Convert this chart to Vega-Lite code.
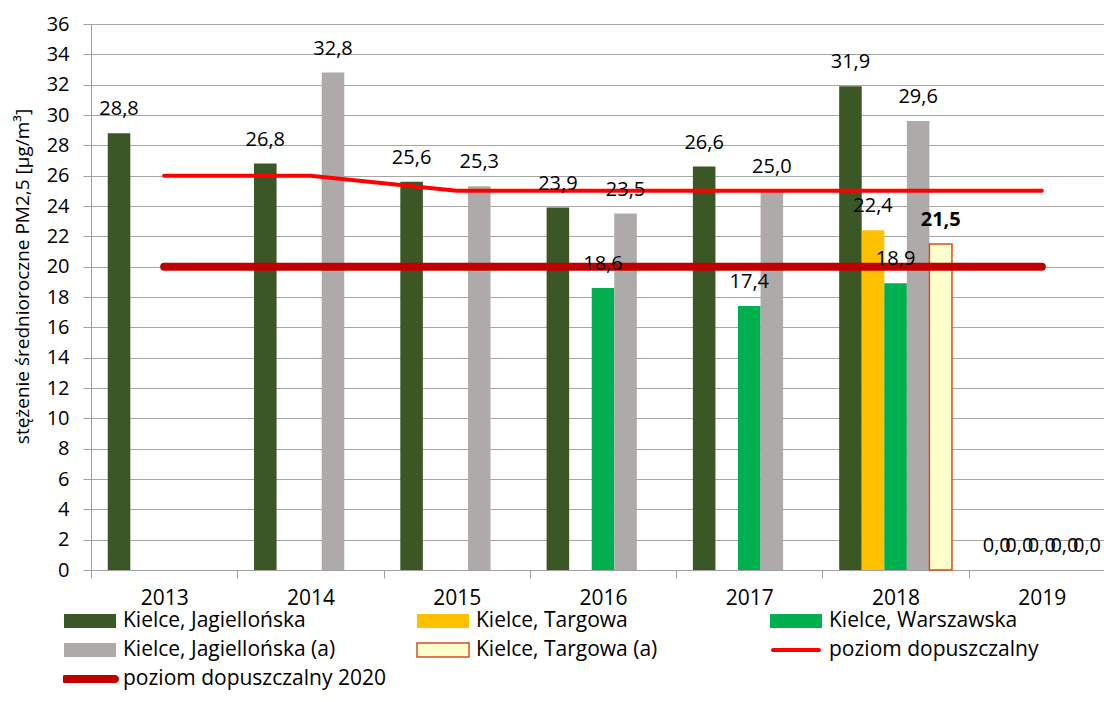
{
  "$schema": "https://vega.github.io/schema/vega-lite/v6.json",
  "width": 1013,
  "height": 546,
  "autosize": "none",
  "padding": {"left": 91, "top": 24, "right": 0, "bottom": 132},
  "background": "white",
  "config": {
    "view": {"stroke": null},
    "font": "Open Sans",
    "locale": {"number": {"decimal": ",", "thousands": " ", "grouping": [3], "currency": ["", " zł"]}}
  },
  "datasets": {
    "bars": [
      {"year": 2013, "series": "Kielce, Jagiellońska", "value": 28.8},
      {"year": 2014, "series": "Kielce, Jagiellońska", "value": 26.8},
      {"year": 2015, "series": "Kielce, Jagiellońska", "value": 25.6},
      {"year": 2016, "series": "Kielce, Jagiellońska", "value": 23.9},
      {"year": 2017, "series": "Kielce, Jagiellońska", "value": 26.6},
      {"year": 2018, "series": "Kielce, Jagiellońska", "value": 31.9},
      {"year": 2019, "series": "Kielce, Jagiellońska", "value": 0},
      {"year": 2018, "series": "Kielce, Targowa", "value": 22.4},
      {"year": 2019, "series": "Kielce, Targowa", "value": 0},
      {"year": 2016, "series": "Kielce, Warszawska", "value": 18.6},
      {"year": 2017, "series": "Kielce, Warszawska", "value": 17.4},
      {"year": 2018, "series": "Kielce, Warszawska", "value": 18.9},
      {"year": 2019, "series": "Kielce, Warszawska", "value": 0},
      {"year": 2014, "series": "Kielce, Jagiellońska (a)", "value": 32.8},
      {"year": 2015, "series": "Kielce, Jagiellońska (a)", "value": 25.3},
      {"year": 2016, "series": "Kielce, Jagiellońska (a)", "value": 23.5},
      {"year": 2017, "series": "Kielce, Jagiellońska (a)", "value": 25.0},
      {"year": 2018, "series": "Kielce, Jagiellońska (a)", "value": 29.6},
      {"year": 2019, "series": "Kielce, Jagiellońska (a)", "value": 0},
      {"year": 2018, "series": "Kielce, Targowa (a)", "value": 21.5},
      {"year": 2019, "series": "Kielce, Targowa (a)", "value": 0}
    ],
    "limits": [
      {"year": 2013, "series": "poziom dopuszczalny", "value": 26},
      {"year": 2014, "series": "poziom dopuszczalny", "value": 26},
      {"year": 2015, "series": "poziom dopuszczalny", "value": 25},
      {"year": 2016, "series": "poziom dopuszczalny", "value": 25},
      {"year": 2017, "series": "poziom dopuszczalny", "value": 25},
      {"year": 2018, "series": "poziom dopuszczalny", "value": 25},
      {"year": 2019, "series": "poziom dopuszczalny", "value": 25},
      {"year": 2013, "series": "poziom dopuszczalny 2020", "value": 20},
      {"year": 2014, "series": "poziom dopuszczalny 2020", "value": 20},
      {"year": 2015, "series": "poziom dopuszczalny 2020", "value": 20},
      {"year": 2016, "series": "poziom dopuszczalny 2020", "value": 20},
      {"year": 2017, "series": "poziom dopuszczalny 2020", "value": 20},
      {"year": 2018, "series": "poziom dopuszczalny 2020", "value": 20},
      {"year": 2019, "series": "poziom dopuszczalny 2020", "value": 20}
    ]
  },
  "encoding": {
    "x": {
      "field": "year", "type": "ordinal",
      "scale": {"domain": [2013, 2014, 2015, 2016, 2017, 2018, 2019], "range": [0, 1024], "paddingInner": 0, "paddingOuter": 0},
      "axis": {"title": null, "tickBand": "extent", "labelAngle": 0, "labelFontSize": 21, "labelFont": "Open Sans", "labelColor": "black", "labelPadding": 9, "tickSize": 8, "tickColor": "#A0A0A0", "domainColor": "#A0A0A0", "grid": false}
    },
    "y": {
      "field": "value", "type": "quantitative",
      "scale": {"domain": [0, 36], "nice": false},
      "axis": {
        "title": "stężenie średnioroczne PM2,5 [µg/m³]",
        "values": [0, 2, 4, 6, 8, 10, 12, 14, 16, 18, 20, 22, 24, 26, 28, 30, 32, 34, 36],
        "format": "d",
        "grid": true, "gridColor": "#A6A6A6", "gridWidth": 1,
        "tickSize": 8, "tickColor": "#A0A0A0", "domainColor": "#A0A0A0",
        "labelPadding": 14, "labelFontSize": 20, "labelFont": "Open Sans", "labelColor": "black",
        "titleFontSize": 19, "titleFont": "Open Sans", "titleFontWeight": "normal", "titleColor": "black",
        "titleX": -69, "titleY": 252, "titleAngle": 270, "titleAlign": "center", "titleBaseline": "middle"
      }
    }
  },
  "layer": [
    {
      "data": {"name": "bars"},
      "mark": {"type": "bar", "strokeWidth": 1.5},
      "encoding": {
        "xOffset": {"field": "series", "type": "nominal",
          "scale": {"domain": ["Kielce, Jagiellońska", "Kielce, Targowa", "Kielce, Warszawska", "Kielce, Jagiellońska (a)", "Kielce, Targowa (a)"], "paddingInner": 0, "paddingOuter": 0.742}},
        "color": {
          "field": "series", "type": "nominal",
          "scale": {
            "domain": ["poziom dopuszczalny", "poziom dopuszczalny 2020", "Kielce, Jagiellońska", "Kielce, Targowa", "Kielce, Warszawska", "Kielce, Jagiellońska (a)", "Kielce, Targowa (a)"],
            "range": ["#FF0000", "#C00000", "#3B5726", "#FFC000", "#00B050", "#AEAAAA", "#FFFFCC"]
          },
          "legend": null
        },
        "stroke": {"condition": {"test": "datum.series === 'Kielce, Targowa (a)' && datum.value > 0", "value": "#D05020"}, "value": "transparent"}
      }
    },
    {
      "data": {"name": "limits"},
      "transform": [{"filter": "datum.series === 'poziom dopuszczalny 2020'"}],
      "mark": {"type": "line", "strokeWidth": 8, "strokeCap": "round"},
      "encoding": {"color": {"field": "series", "type": "nominal", "legend": null}}
    },
    {
      "data": {"name": "limits"},
      "transform": [{"filter": "datum.series === 'poziom dopuszczalny'"}],
      "mark": {"type": "line", "strokeWidth": 4, "strokeCap": "round"},
      "encoding": {"color": {"field": "series", "type": "nominal", "legend": null}}
    },
    {
      "data": {"name": "bars"},
      "transform": [{"filter": "datum.series !== 'Kielce, Targowa (a)' || datum.value == 0"}],
      "mark": {"type": "text", "fontSize": 20, "font": "Open Sans", "color": "black", "baseline": "alphabetic", "dy": -18},
      "encoding": {
        "xOffset": {"field": "series", "type": "nominal"},
        "text": {"field": "value", "type": "quantitative", "format": ".1f"}
      }
    },
    {
      "data": {"name": "bars"},
      "transform": [{"filter": "datum.series === 'Kielce, Targowa (a)' && datum.value > 0"}],
      "mark": {"type": "text", "fontSize": 20, "font": "Open Sans", "fontWeight": "bold", "color": "black", "baseline": "alphabetic", "dy": -18},
      "encoding": {
        "xOffset": {"field": "series", "type": "nominal"},
        "text": {"field": "value", "type": "quantitative", "format": ".1f"}
      }
    },
    {
      "data": {"name": "bars"},
      "transform": [{"filter": "datum.value < 0"}],
      "mark": {"type": "point", "opacity": 1, "strokeWidth": 1.5},
      "encoding": {
        "fill": {
          "field": "series", "type": "nominal",
          "scale": {
            "domain": ["Kielce, Jagiellońska", "Kielce, Targowa", "Kielce, Warszawska", "Kielce, Jagiellońska (a)", "Kielce, Targowa (a)", "poziom dopuszczalny", "poziom dopuszczalny 2020"],
            "range": ["#3B5726", "#FFC000", "#00B050", "#AEAAAA", "#FFFFCC", "#FF0000", "#C00000"]
          },
          "legend": {
            "title": null, "orient": "none", "legendX": -28, "legendY": 589,
            "direction": "horizontal",
            "columns": 3, "gridAlign": "all", "columnPadding": 30, "rowPadding": 8,
            "clipHeight": 16,
            "symbolSize": 2704, "symbolStrokeWidth": 1.5, "symbolOpacity": 1,
            "labelFontSize": 21, "labelFont": "Open Sans", "labelColor": "black",
            "labelOffset": 6, "labelLimit": 500
          }
        },
        "stroke": {
          "field": "series", "type": "nominal",
          "scale": {
            "domain": ["Kielce, Jagiellońska", "Kielce, Targowa", "Kielce, Warszawska", "Kielce, Jagiellońska (a)", "Kielce, Targowa (a)", "poziom dopuszczalny", "poziom dopuszczalny 2020"],
            "range": ["transparent", "transparent", "transparent", "transparent", "#D05020", "transparent", "transparent"]
          },
          "legend": {
            "title": null, "orient": "none", "legendX": -28, "legendY": 589,
            "direction": "horizontal",
            "columns": 3, "gridAlign": "all", "columnPadding": 30, "rowPadding": 8,
            "clipHeight": 16,
            "symbolSize": 2704, "symbolStrokeWidth": 1.5, "symbolOpacity": 1,
            "labelFontSize": 21, "labelFont": "Open Sans", "labelColor": "black",
            "labelOffset": 6, "labelLimit": 500
          }
        },
        "shape": {
          "field": "series", "type": "nominal",
          "scale": {
            "domain": ["Kielce, Jagiellońska", "Kielce, Targowa", "Kielce, Warszawska", "Kielce, Jagiellońska (a)", "Kielce, Targowa (a)", "poziom dopuszczalny", "poziom dopuszczalny 2020"],
            "range": [
              "M-1,-0.27H1V0.27H-1Z",
              "M-1,-0.27H1V0.27H-1Z",
              "M-1,-0.27H1V0.27H-1Z",
              "M-1,-0.27H1V0.27H-1Z",
              "M-1,-0.27H1V0.27H-1Z",
              "M-0.88,-0.08H0.88A0.08,0.08,0,0,1,0.88,0.08H-0.88A0.08,0.08,0,0,1,-0.88,-0.08Z",
              "M-0.96,-0.155H0.96A0.155,0.155,0,0,1,0.96,0.155H-0.96A0.155,0.155,0,0,1,-0.96,-0.155Z"
            ]
          },
          "legend": {
            "title": null, "orient": "none", "legendX": -28, "legendY": 589,
            "direction": "horizontal",
            "columns": 3, "gridAlign": "all", "columnPadding": 30, "rowPadding": 8,
            "clipHeight": 16,
            "symbolSize": 2704, "symbolStrokeWidth": 1.5, "symbolOpacity": 1,
            "labelFontSize": 21, "labelFont": "Open Sans", "labelColor": "black",
            "labelOffset": 6, "labelLimit": 500
          }
        }
      }
    }
  ]
}
